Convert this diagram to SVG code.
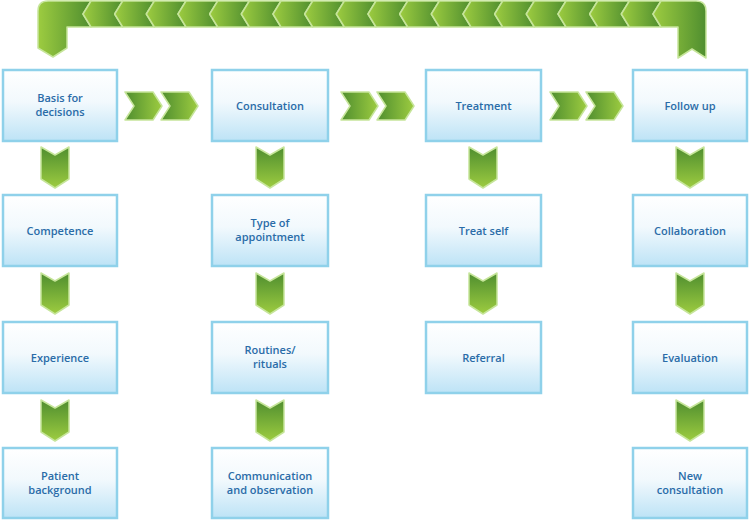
<svg xmlns="http://www.w3.org/2000/svg" xmlns:xlink="http://www.w3.org/1999/xlink" width="750" height="521" viewBox="0 0 750 521">
  <defs>
    <linearGradient id="gBox" x1="0" y1="0" x2="0" y2="1">
      <stop offset="0" stop-color="#ffffff"/>
      <stop offset="0.45" stop-color="#f2f9fd"/>
      <stop offset="1" stop-color="#bde3f6"/>
    </linearGradient>
    <linearGradient id="gL" x1="0" y1="0" x2="1" y2="0">
      <stop offset="0" stop-color="#9dcc40"/>
      <stop offset="1" stop-color="#4f8e2f"/>
    </linearGradient>
    <linearGradient id="gH" x1="0" y1="0" x2="1" y2="0">
      <stop offset="0" stop-color="#4f8e2f"/>
      <stop offset="1" stop-color="#9dcc40"/>
    </linearGradient>
    <linearGradient id="gV" x1="0" y1="0" x2="0" y2="1">
      <stop offset="0" stop-color="#4f8e2f"/>
      <stop offset="1" stop-color="#9dcc40"/>
    </linearGradient>
    <path id="vdown" d="M-14,0 L0,8 L14,0 L14,32 L0,41 L-14,32 Z"/>
    <path id="hchev" d="M0,0 L28,0 L37,14 L28,28 L0,28 L9,14 Z"/>
    <path id="lchev" d="M0,13 L8,0 L39.67,0 L31.67,13 L39.67,26 L8,26 Z"/>
  </defs>
  <style>
    .box { fill: url(#gBox); stroke: #8fd1ea; stroke-width: 2.5; }
    .lbl { font-family: "Open Sans", "Liberation Sans", sans-serif; font-weight: 600; font-size: 11px; fill: #2a6ca8; text-anchor: middle; }
    .arrow { stroke: #c6e59a; stroke-width: 1.5; stroke-linejoin: round; }
    .left { fill: url(#gL); }
    .right { fill: url(#gH); }
    .down { fill: url(#gV); }
  </style>

  <g id="connectors">
    <!-- top return band -->
    <path class="arrow left" d="M91,1 L48,1 Q38,1 38,11 L38,48 L53,57 L67,48 L67,27 L91,27 L83,14 Z"/>
    <use href="#lchev" class="arrow left" transform="translate(83,1)"/>
    <use href="#lchev" class="arrow left" transform="translate(114.67,1)"/>
    <use href="#lchev" class="arrow left" transform="translate(146.33,1)"/>
    <use href="#lchev" class="arrow left" transform="translate(178,1)"/>
    <use href="#lchev" class="arrow left" transform="translate(209.67,1)"/>
    <use href="#lchev" class="arrow left" transform="translate(241.33,1)"/>
    <use href="#lchev" class="arrow left" transform="translate(273,1)"/>
    <use href="#lchev" class="arrow left" transform="translate(304.67,1)"/>
    <use href="#lchev" class="arrow left" transform="translate(336.33,1)"/>
    <use href="#lchev" class="arrow left" transform="translate(368,1)"/>
    <use href="#lchev" class="arrow left" transform="translate(399.67,1)"/>
    <use href="#lchev" class="arrow left" transform="translate(431.33,1)"/>
    <use href="#lchev" class="arrow left" transform="translate(463,1)"/>
    <use href="#lchev" class="arrow left" transform="translate(494.67,1)"/>
    <use href="#lchev" class="arrow left" transform="translate(526.33,1)"/>
    <use href="#lchev" class="arrow left" transform="translate(558,1)"/>
    <use href="#lchev" class="arrow left" transform="translate(589.67,1)"/>
    <use href="#lchev" class="arrow left" transform="translate(621.33,1)"/>
    <path class="arrow left" d="M653,14 L661,1 L696,1 Q706,1 706,11 L706,58 L692,49 L678,58 L678,27 L661,27 Z"/>

    <!-- horizontal chevron pairs -->
    <use href="#hchev" class="arrow right" transform="translate(125,92)"/>
    <use href="#hchev" class="arrow right" transform="translate(161,92)"/>
    <use href="#hchev" class="arrow right" transform="translate(341,92)"/>
    <use href="#hchev" class="arrow right" transform="translate(377,92)"/>
    <use href="#hchev" class="arrow right" transform="translate(550,92)"/>
    <use href="#hchev" class="arrow right" transform="translate(586,92)"/>

    <!-- vertical arrows -->
    <use href="#vdown" class="arrow down" transform="translate(55,147)"/>
    <use href="#vdown" class="arrow down" transform="translate(55,273)"/>
    <use href="#vdown" class="arrow down" transform="translate(55,400)"/>
    <use href="#vdown" class="arrow down" transform="translate(270,147)"/>
    <use href="#vdown" class="arrow down" transform="translate(270,273)"/>
    <use href="#vdown" class="arrow down" transform="translate(270,400)"/>
    <use href="#vdown" class="arrow down" transform="translate(483,147)"/>
    <use href="#vdown" class="arrow down" transform="translate(483,273)"/>
    <use href="#vdown" class="arrow down" transform="translate(690,147)"/>
    <use href="#vdown" class="arrow down" transform="translate(690,273)"/>
    <use href="#vdown" class="arrow down" transform="translate(690,400)"/>
  </g>

  <!-- column 1 -->
  <g id="basis">
    <rect class="box" x="3" y="70" width="114" height="71"/>
    <text class="lbl" x="60" y="102">Basis for</text>
    <text class="lbl" x="60" y="116">decisions</text>
  </g>
  <g id="competence">
    <rect class="box" x="3" y="195" width="114" height="71"/>
    <text class="lbl" x="60" y="234.5">Competence</text>
  </g>
  <g id="experience">
    <rect class="box" x="3" y="322" width="114" height="71"/>
    <text class="lbl" x="60" y="361.5">Experience</text>
  </g>
  <g id="patient-background">
    <rect class="box" x="3" y="448" width="114" height="70"/>
    <text class="lbl" x="60" y="479.5">Patient</text>
    <text class="lbl" x="60" y="493.5">background</text>
  </g>

  <!-- column 2 -->
  <g id="consultation">
    <rect class="box" x="212" y="70" width="116" height="71"/>
    <text class="lbl" x="270" y="109.5">Consultation</text>
  </g>
  <g id="type-of-appointment">
    <rect class="box" x="212" y="195" width="116" height="71"/>
    <text class="lbl" x="270" y="227">Type of</text>
    <text class="lbl" x="270" y="241">appointment</text>
  </g>
  <g id="routines">
    <rect class="box" x="212" y="322" width="116" height="71"/>
    <text class="lbl" x="270" y="354">Routines/</text>
    <text class="lbl" x="270" y="368">rituals</text>
  </g>
  <g id="communication">
    <rect class="box" x="212" y="448" width="116" height="70"/>
    <text class="lbl" x="270" y="479.5">Communication</text>
    <text class="lbl" x="270" y="493.5">and observation</text>
  </g>

  <!-- column 3 -->
  <g id="treatment">
    <rect class="box" x="426" y="70" width="115" height="71"/>
    <text class="lbl" x="483.5" y="109.5">Treatment</text>
  </g>
  <g id="treat-self">
    <rect class="box" x="426" y="195" width="115" height="71"/>
    <text class="lbl" x="483.5" y="234.5">Treat self</text>
  </g>
  <g id="referral">
    <rect class="box" x="426" y="322" width="115" height="71"/>
    <text class="lbl" x="483.5" y="361.5">Referral</text>
  </g>

  <!-- column 4 -->
  <g id="follow-up">
    <rect class="box" x="633" y="70" width="114" height="71"/>
    <text class="lbl" x="690" y="109.5">Follow up</text>
  </g>
  <g id="collaboration">
    <rect class="box" x="633" y="195" width="114" height="71"/>
    <text class="lbl" x="690" y="234.5">Collaboration</text>
  </g>
  <g id="evaluation">
    <rect class="box" x="633" y="322" width="114" height="71"/>
    <text class="lbl" x="690" y="361.5">Evaluation</text>
  </g>
  <g id="new-consultation">
    <rect class="box" x="633" y="448" width="114" height="70"/>
    <text class="lbl" x="690" y="479.5">New</text>
    <text class="lbl" x="690" y="493.5">consultation</text>
  </g>
</svg>
